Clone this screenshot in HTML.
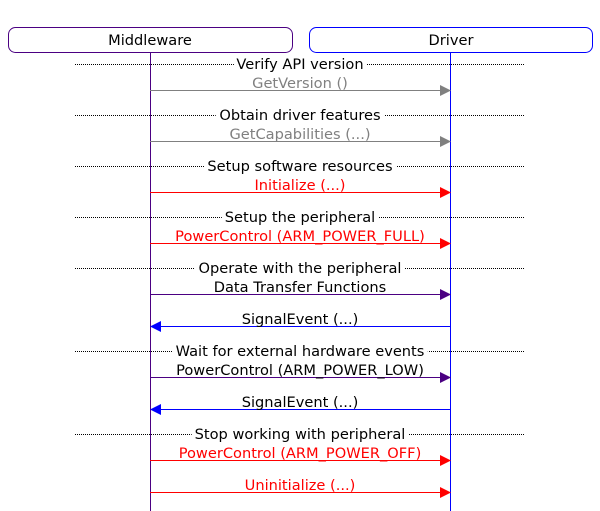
<!DOCTYPE html>
<html><head><meta charset="utf-8"><style>
html,body{margin:0;padding:0;background:#fff;}
svg{display:block;}
text{font-family:"DejaVu Sans","Liberation Sans",sans-serif;font-size:14.6px;text-anchor:middle;}
.d{stroke:#fff;stroke-width:9px;paint-order:stroke;stroke-linejoin:round;}
</style></head><body>
<svg width="600" height="511" viewBox="0 0 600 511" xmlns="http://www.w3.org/2000/svg">
<rect x="8.5" y="27.5" width="284" height="25" rx="7" fill="#fff" stroke="#4b0082"/>
<text x="150" y="45">Middleware</text>
<rect x="309.5" y="27.5" width="283" height="25" rx="7" fill="#fff" stroke="#0000ff"/>
<text x="451" y="45">Driver</text>
<line x1="150.5" y1="52" x2="150.5" y2="511" stroke="#4b0082"/>
<line x1="450.5" y1="52" x2="450.5" y2="511" stroke="#0000ff"/>
<g stroke="#000" stroke-dasharray="1,1">
<line x1="75" y1="64.5" x2="525" y2="64.5"/>
<line x1="75" y1="115.5" x2="525" y2="115.5"/>
<line x1="75" y1="166.5" x2="525" y2="166.5"/>
<line x1="75" y1="217.5" x2="525" y2="217.5"/>
<line x1="75" y1="268.5" x2="525" y2="268.5"/>
<line x1="75" y1="351.5" x2="525" y2="351.5"/>
<line x1="75" y1="434.5" x2="525" y2="434.5"/>
</g>
<text class="d" x="300" y="69">Verify API version</text>
<text class="d" x="300" y="120">Obtain driver features</text>
<text class="d" x="300" y="171">Setup software resources</text>
<text class="d" x="300" y="222">Setup the peripheral</text>
<text class="d" x="300" y="273">Operate with the peripheral</text>
<text class="d" x="300" y="356">Wait for external hardware events</text>
<text class="d" x="300" y="439">Stop working with peripheral</text>
<g>
<line x1="150" y1="90.5" x2="442" y2="90.5" stroke="#808080"/><polygon points="440,85 451,90.5 440,96" fill="#808080"/>
<text x="300" y="88" fill="#808080">GetVersion ()</text>
<line x1="150" y1="141.5" x2="442" y2="141.5" stroke="#808080"/><polygon points="440,136 451,141.5 440,147" fill="#808080"/>
<text x="300" y="139" fill="#808080">GetCapabilities (...)</text>
<line x1="150" y1="192.5" x2="442" y2="192.5" stroke="#ff0000"/><polygon points="440,187 451,192.5 440,198" fill="#ff0000"/>
<text x="300" y="190" fill="#ff0000">Initialize (...)</text>
<line x1="150" y1="243.5" x2="442" y2="243.5" stroke="#ff0000"/><polygon points="440,238 451,243.5 440,249" fill="#ff0000"/>
<text x="300" y="241" fill="#ff0000">PowerControl (ARM_POWER_FULL)</text>
<line x1="150" y1="294.5" x2="442" y2="294.5" stroke="#4b0082"/><polygon points="440,289 451,294.5 440,300" fill="#4b0082"/>
<text x="300" y="292">Data Transfer Functions</text>
<line x1="158" y1="326.5" x2="450" y2="326.5" stroke="#0000ff"/><polygon points="161,321 150,326.5 161,332" fill="#0000ff"/>
<text x="300" y="324">SignalEvent (...)</text>
<line x1="150" y1="377.5" x2="442" y2="377.5" stroke="#4b0082"/><polygon points="440,372 451,377.5 440,383" fill="#4b0082"/>
<text x="300" y="375">PowerControl (ARM_POWER_LOW)</text>
<line x1="158" y1="409.5" x2="450" y2="409.5" stroke="#0000ff"/><polygon points="161,404 150,409.5 161,415" fill="#0000ff"/>
<text x="300" y="407">SignalEvent (...)</text>
<line x1="150" y1="460.5" x2="442" y2="460.5" stroke="#ff0000"/><polygon points="440,455 451,460.5 440,466" fill="#ff0000"/>
<text x="300" y="458" fill="#ff0000">PowerControl (ARM_POWER_OFF)</text>
<line x1="150" y1="492.5" x2="442" y2="492.5" stroke="#ff0000"/><polygon points="440,487 451,492.5 440,498" fill="#ff0000"/>
<text x="300" y="490" fill="#ff0000">Uninitialize (...)</text>
</g>
</svg>
</body></html>
